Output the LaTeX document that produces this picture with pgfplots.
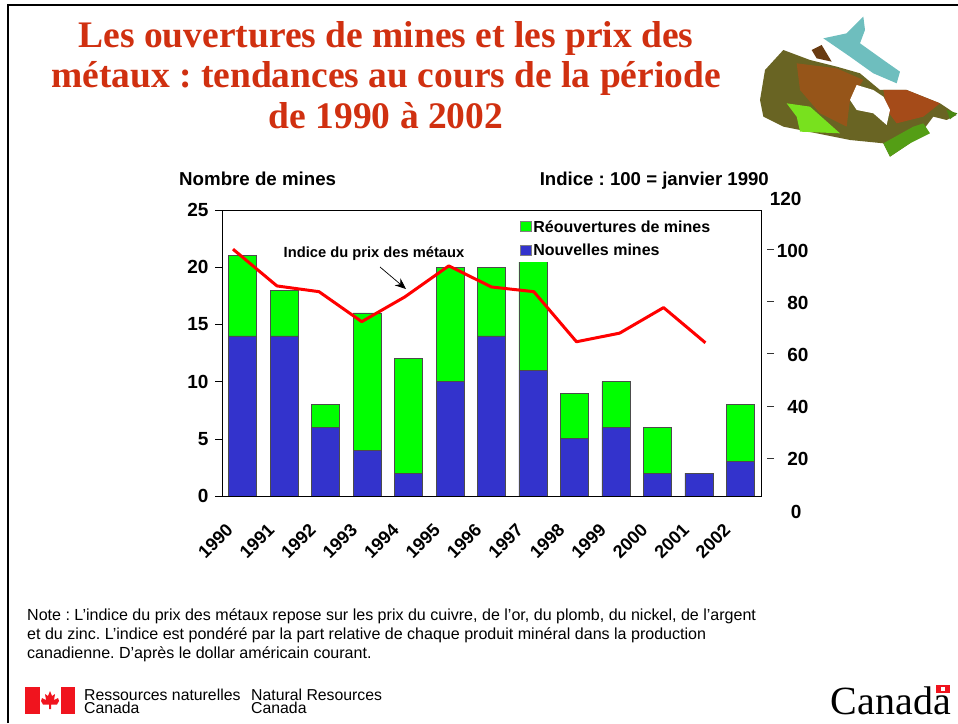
\documentclass[border=0pt]{standalone}
\usepackage{pgfplots}
\pgfplotsset{compat=1.18}
\usepackage{fontspec}
\setmainfont{Liberation Sans}
\newfontfamily\serifbf{Liberation Serif}
\usetikzlibrary{arrows.meta}

\definecolor{titlered}{RGB}{208,48,16}
\definecolor{barblue}{RGB}{51,51,204}
\definecolor{bargreen}{RGB}{0,255,0}
\definecolor{flagred}{RGB}{240,20,30}
\definecolor{mapbase}{RGB}{105,100,35}
\definecolor{mapbrown}{RGB}{150,85,25}
\definecolor{mapred}{RGB}{165,75,25}
\definecolor{mapgreen}{RGB}{120,225,30}
\definecolor{mapteal}{RGB}{110,190,190}

\pgfplotstableread{
x blue green
0 14 7
1 14 4
2 6 2
3 4 12
4 2 10
5 10 10
6 14 6
7 11 10
8 5 4
9 6 4
10 2 4
11 2 0
12 3 5
}\minedata

\begin{document}
\frenchspacing
\begin{tikzpicture}[x=1pt,y=1pt]
\path[use as bounding box] (0,0) rectangle (958,723);

% frame of the slide
\draw[line width=1.6pt] (8,0) -- (8,718) -- (958,718);

% title
\node[align=center,font=\serifbf\bfseries\fontsize{37.5}{40.5}\selectfont,text=titlered]
  at (386,648) {Les ouvertures de mines et les prix des\\ métaux : tendances au cours de la période\\ de 1990 à 2002};

% map of Canada
\begin{scope}[shift={(750,723)},x=0.3333pt,y=-0.3333pt]
\fill[mapbase] (45,210) -- (100,150) -- (180,180) -- (260,200) -- (330,220) -- (390,270) -- (470,270) -- (570,310) -- (600,330) -- (620,345) -- (590,360) -- (550,350) -- (520,390) -- (480,430) -- (420,470) -- (400,430) -- (300,420) -- (200,400) -- (100,380) -- (40,350) -- (30,300) -- cycle;
\fill[mapbrown] (140,190) -- (260,205) -- (340,240) -- (300,300) -- (290,380) -- (210,340) -- (150,270) -- cycle;
\fill[mapred] (400,270) -- (470,270) -- (570,310) -- (520,350) -- (440,370) -- (410,330) -- cycle;
\fill[mapgreen] (110,310) -- (180,320) -- (270,400) -- (150,395) -- (140,350) -- cycle;
\fill[mapgreen!70!black] (400,430) -- (490,380) -- (520,370) -- (540,400) -- (480,430) -- (420,470) -- cycle;
\fill[mapgreen!60!black] (590,330) -- (622,340) -- (600,358) -- cycle;
\fill[mapteal] (220,115) -- (290,100) -- (340,50) -- (345,90) -- (330,130) -- (400,180) -- (450,215) -- (440,250) -- (370,220) -- (300,170) -- cycle;
\fill[mapbrown!70!black] (185,150) -- (215,135) -- (245,185) -- (200,175) -- cycle;
\fill[white] (300,300) -- (320,255) -- (370,270) -- (400,290) -- (420,330) -- (410,375) -- (370,340) -- (320,330) -- cycle;
\end{scope}

% bars, left scale
\begin{axis}[
    at={(222pt,227pt)}, anchor=south west,
    scale only axis,
    width=539pt, height=286pt,
    ybar stacked,
    bar width=28pt,
    xmin=-0.5, xmax=12.5,
    ymin=0, ymax=25,
    xtick={0,...,12},
    xticklabels={1990,1991,1992,1993,1994,1995,1996,1997,1998,1999,2000,2001,2002},
    x tick style={draw=none},
    xticklabel style={rotate=45,anchor=north east,font=\bfseries\fontsize{18}{18}\selectfont,xshift=-22.5pt,yshift=2.4pt},
    ytick={0,5,...,25},
    y tick style={black},
    ytick pos=left,
    tick align=outside,
    major tick length=7pt,
    yticklabel style={font=\bfseries\fontsize{19}{19}\selectfont,/pgf/number format/assume math mode=true,xshift=-3pt},
    legend style={
        at={(0.5436,0.818)}, anchor=south west,
        draw=none, fill=white,
        font=\bfseries\fontsize{16}{16}\selectfont,
        row sep=6pt, inner xsep=5pt, inner ysep=3pt,
        cells={anchor=west},
    },
    legend image code/.code={\draw[#1,draw=black!50] (0pt,-4.5pt) rectangle (10.5pt,5.5pt);},
    reverse legend,
]
\addplot[fill=barblue,draw=black!70,line width=0.6pt] table[x=x,y=blue] {\minedata};
\addlegendentry{Nouvelles mines}
\addplot[fill=bargreen,draw=black!70,line width=0.6pt] table[x=x,y=green] {\minedata};
\addlegendentry{Réouvertures de mines}
\end{axis}

% price index, right scale (runs past the plot box in the original)
\begin{axis}[
    at={(222pt,213pt)}, anchor=south west,
    scale only axis,
    width=539pt, height=313pt,
    xmin=-0.5, xmax=12.5,
    ymin=0, ymax=120,
    hide x axis,
    axis y line*=right,
    y axis line style={draw=none},
    ytick={20,40,60,80,100},
    extra y ticks={0,120},
    extra tick style={major tick length=0pt},
    y tick style={black!80,xshift=6pt},
    tick align=outside,
    major tick length=7pt,
    clip=false,
    yticklabel style={anchor=east,xshift=44pt,yshift=-1.5pt,font=\bfseries\fontsize{19}{19}\selectfont,/pgf/number format/assume math mode=true},
]
\addplot[red,line width=3pt,line join=round] coordinates {
    (-0.235,100)(0.825,85.9)(1.84,83.7)(2.87,72.2)(3.91,81.7)(4.97,93.6)
    (6.0,85.5)(7.02,83.7)(8.05,64.5)(9.09,67.8)(10.15,77.6)(11.16,64.1)
};
\end{axis}

% headers and annotation
\node[anchor=base west,font=\bfseries\fontsize{18.7}{18.7}\selectfont,inner sep=0pt] at (179,537) {Nombre de mines};
\node[anchor=base east,font=\bfseries\fontsize{18.6}{18.6}\selectfont,inner sep=0pt] at (769,537) {Indice : 100 = janvier 1990};
\node[font=\bfseries\fontsize{14.7}{14.7}\selectfont] at (374,469) {Indice du prix des métaux};
\draw[-{Stealth[length=11pt,width=9pt]},line width=0.7pt] (380,456) -- (406,434);

% note
\node[anchor=north west,align=left,font=\fontsize{16.05}{19}\selectfont,inner sep=0pt] at (27,115)
  {Note : L’indice du prix des métaux repose sur les prix du cuivre, de l’or, du plomb, du nickel, de l’argent\\
   et du zinc. L’indice est pondéré par la part relative de chaque produit minéral dans la production\\
   canadienne. D’après le dollar américain courant.};

% footer
\fill[flagred] (25,9) rectangle (40,36);
\fill[flagred] (61,9) rectangle (75,36);
\fill[flagred] (50,32) -- (52,27) -- (55,29) -- (54,23) -- (58,25) -- (59,22) -- (57,18.5) -- (51,18.5) -- (51,14) -- (49,14) -- (49,18.5) -- (43,18.5) -- (41,22) -- (42,25) -- (46,23) -- (45,29) -- (48,27) -- cycle;
\node[anchor=west,font=\fontsize{15.8}{13}\selectfont,align=left,inner sep=0pt] at (84,22) {Ressources naturelles\\Canada};
\node[anchor=west,font=\fontsize{15.8}{13}\selectfont,align=left,inner sep=0pt] at (251,22) {Natural Resources\\Canada};
\node[anchor=base east,font=\serifbf\fontsize{40}{40}\selectfont,inner sep=0pt] at (951,9) {Canada};
\fill[flagred] (936,30) rectangle (950,38);
\fill[white] (941,32) rectangle (945,36);
\end{tikzpicture}
\end{document}
